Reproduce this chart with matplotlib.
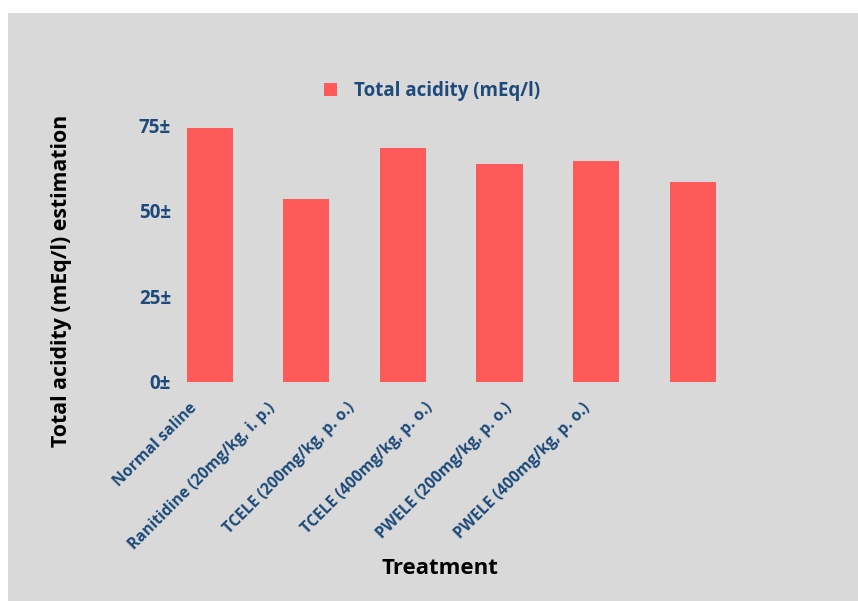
import matplotlib.pyplot as plt
from matplotlib.patches import Rectangle

# Total acidity per treatment group
treatments = ['Normal saline', 'Ranitidine (20mg/kg, i. p.)', 'TCELE (200mg/kg, p. o.)',
              'TCELE (400mg/kg, p. o.)', 'PWELE (200mg/kg, p. o.)', 'PWELE (400mg/kg, p. o.)']
acidity = [74.3, 53.6, 68.5, 63.6, 64.7, 58.4]
y_ticks = [0, 25, 50, 75]
y_tick_labels = ['0±', '25±', '50±', '75±']

# the category labels sit on a tighter spacing than the bars
label_pos = [-0.22, 0.60, 1.42, 2.23, 3.05, 3.86]

bg = '#d9d9d9'
bar_color = '#ff5a5a'
navy = '#1d4a7a'

plt.rcParams['font.family'] = ['Open Sans', 'DejaVu Sans']

fig = plt.figure(figsize=(8.58, 6.01), dpi=100)
fig.patch.set_facecolor('white')
# grey panel behind the chart
fig.patches.append(Rectangle((8 / 858, 0), 1, 1 - 13 / 601, transform=fig.transFigure,
                             facecolor=bg, edgecolor='none', zorder=-1))

ax = fig.add_axes([161.4 / 858, 1 - 381.7 / 601, 579.6 / 858, (381.7 - 125.5) / 601])
ax.set_facecolor('none')

x = range(len(treatments))
ax.bar(x, acidity, width=0.48, color=bar_color, label='Total acidity (mEq/l)')
ax.set_xlim(-0.5, len(treatments) - 0.5)
ax.set_ylim(0, 75)

ax.set_yticks(y_ticks)
ax.set_yticklabels(y_tick_labels, fontsize=13.5, fontweight='bold', color=navy)
ax.set_xticks(label_pos)
ax.set_xticklabels(treatments, rotation=45, ha='right', rotation_mode='anchor',
                   fontsize=11.3, fontweight='bold', color=navy)
ax.tick_params(length=0)
ax.tick_params(axis='y', pad=-7)
ax.tick_params(axis='x', pad=13)

for s in ax.spines.values():
    s.set_visible(False)

fig.text(62 / 858, 1 - 281 / 601, 'Total acidity (mEq/l) estimation', fontsize=15.3,
         fontweight='bold', rotation=90, ha='center', va='center')
fig.text(440 / 858, 1 - 569 / 601, 'Treatment', fontsize=16, fontweight='bold',
         ha='center', va='center')

fig.legend(*ax.get_legend_handles_labels(), loc='center',
           bbox_to_anchor=(432 / 858, 1 - 91 / 601), frameon=False, handlelength=0.7,
           handleheight=0.7, handletextpad=0.9,
           prop={'size': 13.5, 'weight': 'bold'}, labelcolor=navy)

fig.savefig('out.png', dpi=100, facecolor=fig.get_facecolor())
